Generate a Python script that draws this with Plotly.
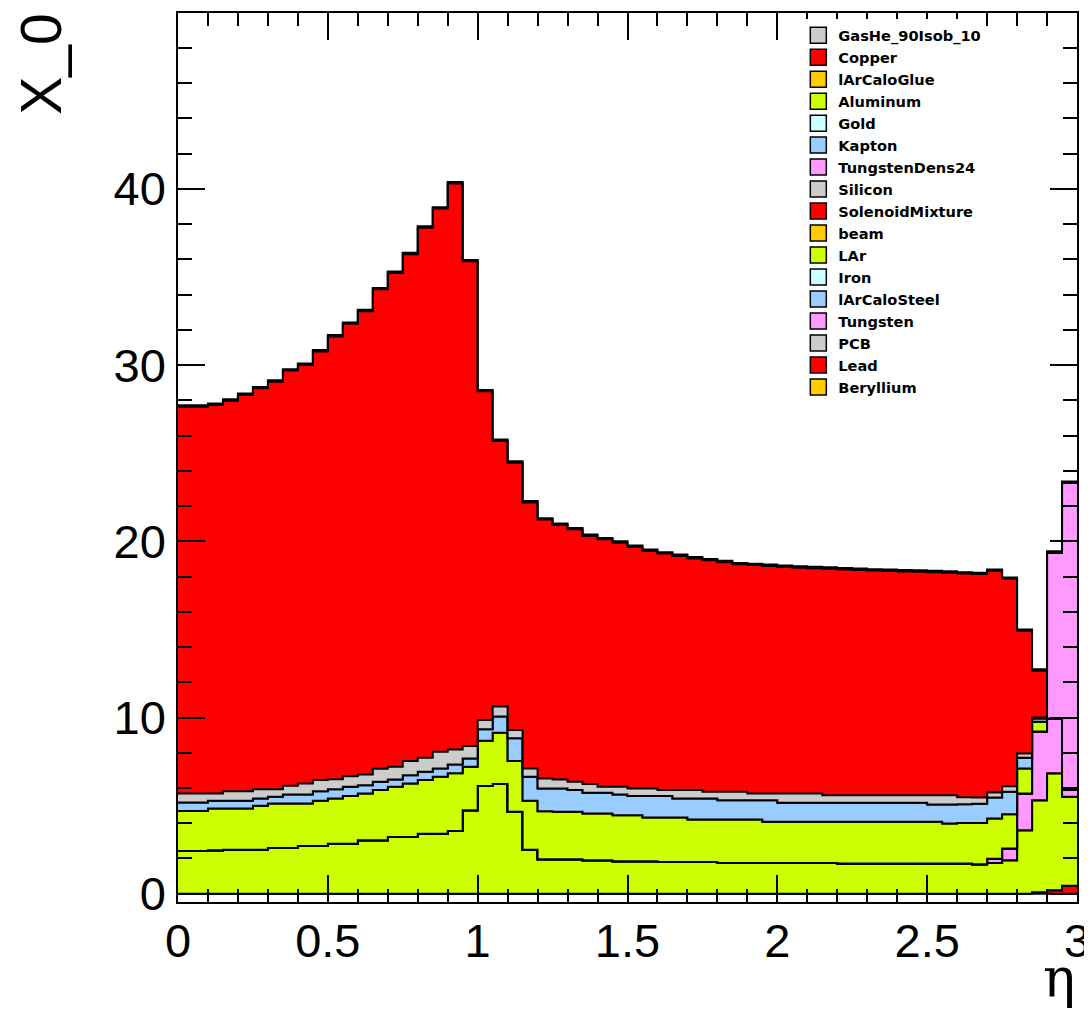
import plotly.graph_objects as go

# ---------------- data ----------------
n_bins = 60
bin_width = 0.05
eta_edges = [round(i * bin_width, 2) for i in range(n_bins + 1)]

# stack order (bottom -> top) == legend order (top -> bottom)
materials = ["GasHe_90Isob_10", "Copper", "lArCaloGlue", "Aluminum", "Gold", "Kapton",
             "TungstenDens24", "Silicon", "SolenoidMixture", "beam", "LAr", "Iron",
             "lArCaloSteel", "Tungsten", "PCB", "Lead", "Beryllium"]

colors = {"GasHe_90Isob_10": "#cccccc", "Copper": "#ff0000", "lArCaloGlue": "#ffcc00",
          "Aluminum": "#ccff00", "Gold": "#ccffff", "Kapton": "#99ccff",
          "TungstenDens24": "#ff99ff", "Silicon": "#cccccc", "SolenoidMixture": "#ff0000",
          "beam": "#ffcc00", "LAr": "#ccff00", "Iron": "#ccffff", "lArCaloSteel": "#99ccff",
          "Tungsten": "#ff99ff", "PCB": "#cccccc", "Lead": "#ff0000", "Beryllium": "#ffcc00"}

zero = [0.0] * n_bins

copper = [0.0] * 57 + [0.08, 0.20, 0.45]

aluminum = [2.43, 2.43, 2.46, 2.50, 2.50, 2.50, 2.60, 2.60, 2.71, 2.71,
            2.84, 2.84, 3.03, 3.03, 3.22, 3.22, 3.41, 3.41, 3.56, 4.74,
            6.11, 6.22, 4.65, 2.50, 1.95, 1.95, 1.95, 1.90, 1.90, 1.84,
            1.84, 1.84, 1.80, 1.80, 1.80, 1.80, 1.74, 1.74, 1.74, 1.74,
            1.74, 1.74, 1.74, 1.74, 1.71, 1.71, 1.71, 1.71, 1.71, 1.71,
            1.71, 1.71, 1.71, 1.67, 1.74, 1.90, 3.60, 5.23, 6.63, 5.05]

tungsten_dens24 = [0.0] * 54 + [0.25, 0.66, 2.09, 3.89, 3.12, 0.38]

lar = [2.27, 2.27, 2.37, 2.33, 2.33, 2.49, 2.52, 2.52, 2.41, 2.56,
       2.56, 2.70, 2.66, 2.85, 2.85, 3.04, 3.04, 3.23, 3.27, 2.47,
       2.57, 2.92, 2.88, 2.77, 2.73, 2.70, 2.70, 2.65, 2.65, 2.62,
       2.62, 2.48, 2.52, 2.52, 2.41, 2.41, 2.47, 2.47, 2.47, 2.34,
       2.34, 2.34, 2.34, 2.34, 2.37, 2.37, 2.37, 2.37, 2.37, 2.37,
       2.37, 2.27, 2.31, 2.35, 2.28, 1.95, 1.42, 0.56, 0.00, 0.00]

larcalo_steel = [0.48, 0.48, 0.44, 0.44, 0.44, 0.41, 0.38, 0.51, 0.51, 0.55,
                 0.53, 0.53, 0.47, 0.47, 0.41, 0.47, 0.47, 0.47, 0.51, 0.47,
                 0.65, 0.91, 1.29, 1.37, 1.29, 1.32, 1.23, 1.18, 1.18, 1.17,
                 1.08, 1.22, 1.22, 1.08, 1.19, 1.19, 1.10, 1.10, 1.10, 1.23,
                 1.08, 1.08, 1.08, 1.08, 1.08, 1.08, 1.08, 1.08, 1.08, 1.08,
                 0.98, 1.08, 1.06, 1.08, 1.19, 1.27, 0.61, 0.19, 0.00, 0.00]

tungsten = [0.0] * 58 + [9.40, 17.44]

pcb = [0.51, 0.51, 0.42, 0.55, 0.55, 0.53, 0.43, 0.49, 0.63, 0.63,
       0.57, 0.60, 0.61, 0.74, 0.72, 0.80, 0.80, 0.95, 0.85, 0.70,
       0.53, 0.57, 0.47, 0.47, 0.57, 0.51, 0.47, 0.49, 0.34, 0.44,
       0.43, 0.43, 0.34, 0.48, 0.48, 0.38, 0.47, 0.47, 0.38, 0.38,
       0.53, 0.53, 0.53, 0.43, 0.43, 0.43, 0.43, 0.43, 0.43, 0.43,
       0.53, 0.53, 0.40, 0.36, 0.29, 0.32, 0.24, 0.05, 0.00, 0.00]

lead = [21.95, 21.95, 22.05, 22.16, 22.48, 22.75, 23.13, 23.57, 23.75, 24.32,
        25.12, 25.67, 26.29, 27.21, 28.03, 28.76, 30.08, 30.82, 32.12, 27.51,
        18.65, 15.07, 15.17, 15.09, 14.69, 14.45, 14.33, 14.08, 14.04, 13.85,
        13.71, 13.48, 13.42, 13.29, 13.15, 13.14, 13.03, 12.91, 12.96, 12.91,
        12.85, 12.81, 12.78, 12.85, 12.81, 12.78, 12.75, 12.73, 12.70, 12.68,
        12.66, 12.63, 12.69, 12.68, 12.57, 11.77, 6.96, 2.66, 0.00, 0.00]

beryllium = [0.08, 0.08, 0.08, 0.08, 0.08, 0.08, 0.08, 0.08, 0.08, 0.08,
             0.08, 0.08, 0.08, 0.08, 0.08, 0.08, 0.08, 0.08, 0.08, 0.08,
             0.08, 0.08, 0.08, 0.08, 0.08, 0.08, 0.08, 0.08, 0.08, 0.08,
             0.08, 0.08, 0.08, 0.08, 0.08, 0.08, 0.08, 0.08, 0.08, 0.08,
             0.08, 0.08, 0.08, 0.08, 0.08, 0.08, 0.08, 0.08, 0.08, 0.08,
             0.08, 0.08, 0.08, 0.08, 0.08, 0.08, 0.08, 0.08, 0.08, 0.08]

values = {"GasHe_90Isob_10": zero, "Copper": copper, "lArCaloGlue": zero,
          "Aluminum": aluminum, "Gold": zero, "Kapton": zero,
          "TungstenDens24": tungsten_dens24, "Silicon": zero, "SolenoidMixture": zero,
          "beam": zero, "LAr": lar, "Iron": zero, "lArCaloSteel": larcalo_steel,
          "Tungsten": tungsten, "PCB": pcb, "Lead": lead, "Beryllium": beryllium}

x_ticks = [0, 0.5, 1, 1.5, 2, 2.5, 3]
x_labels = ["0", "0.5", "1", "1.5", "2", "2.5", "3"]
y_ticks = [0, 10, 20, 30, 40]

# ---------------- figure ----------------
fig = go.Figure()

for m in materials:
    v = values[m]
    fig.add_trace(go.Scatter(
        x=eta_edges, y=list(v) + [v[-1]],
        mode="lines", stackgroup="stack",
        line=dict(shape="hv", color="black", width=2),
        fillcolor=colors[m], name=m, showlegend=False, hoverinfo="skip"))

# legend entries (boxes)
for m in materials:
    fig.add_trace(go.Scatter(
        x=[None], y=[None], mode="markers", name=m,
        marker=dict(symbol="square", size=16, color=colors[m],
                    line=dict(color="black", width=1.5))))

tick_font = dict(family="Liberation Sans, Arial, sans-serif", size=47, color="black")

# page body has an 8px margin, so the figure is sized to fit the 1092x1014 window
fig.update_layout(
    template="none",
    width=1084, height=1006,
    margin=dict(l=170, r=15, t=5, b=112, autoexpand=False),
    paper_bgcolor="white", plot_bgcolor="white",
    showlegend=True,
    legend=dict(x=0.69, y=0.993, xanchor="left", yanchor="top",
                bgcolor="rgba(255,255,255,1)", borderwidth=0,
                font=dict(family="DejaVu Sans, sans-serif", size=14.6,
                          color="black", weight="bold"),
                traceorder="normal"),
    xaxis=dict(range=[0, 3], tickvals=x_ticks, ticktext=x_labels,
               ticks="inside", ticklen=27, tickwidth=1.5, tickcolor="black",
               minor=dict(dtick=0.1, tick0=0, ticks="inside", ticklen=13,
                          tickwidth=1.5, tickcolor="black", showgrid=False),
               showline=True, linecolor="black", linewidth=1.5, mirror="ticks",
               showgrid=False, zeroline=False, tickfont=tick_font,
               automargin=False, ticklabelstandoff=-3),
    yaxis=dict(range=[-0.47, 49.98], tickvals=y_ticks,
               ticks="inside", ticklen=27, tickwidth=1.5, tickcolor="black",
               minor=dict(dtick=2, tick0=0, ticks="inside", ticklen=14,
                          tickwidth=1.5, tickcolor="black", showgrid=False),
               showline=True, linecolor="black", linewidth=1.5, mirror="ticks",
               showgrid=False, zeroline=False, tickfont=tick_font,
               automargin=False, ticklabelstandoff=1),
    annotations=[
        dict(text="X_0", xref="paper", yref="paper", x=-0.1524, y=0.943,
             xanchor="center", yanchor="middle", textangle=-90, showarrow=False,
             font=dict(family="Liberation Sans, Arial, sans-serif", size=57, color="black")),
        dict(text="η", xref="paper", yref="paper", x=1.0, y=-0.124,
             xanchor="right", yanchor="bottom", showarrow=False,
             font=dict(family="DejaVu Serif, serif", size=54, color="black")),
    ],
)

fig.write_html("out.html")
